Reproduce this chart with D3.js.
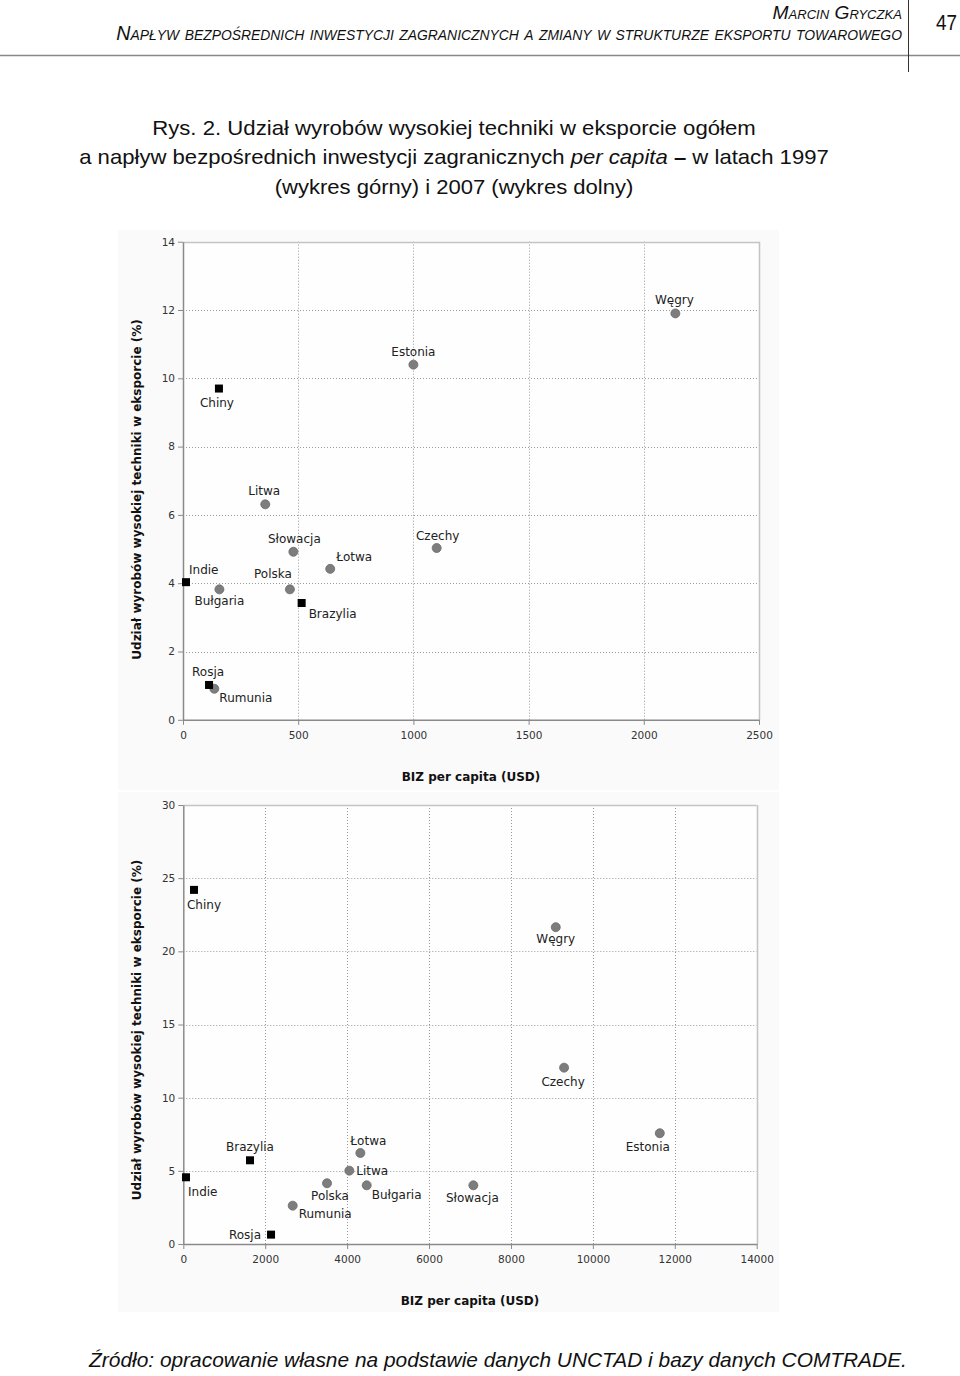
<!DOCTYPE html>
<html><head><meta charset="utf-8">
<script src="https://cdn.jsdelivr.net/npm/d3@7"></script>
<style>body{margin:0;background:#fff}svg{display:block}</style>
</head><body>
<svg id="c" width="960" height="1376"></svg>
<script>
// ---------- DATA ----------
const countries1997 = ["Chiny","Estonia","Węgry","Czechy","Litwa","Słowacja","Łotwa","Indie","Bułgaria","Polska","Brazylia","Rosja","Rumunia"];
const biz1997 = [156,1000,2137,1101,357,479,639,13,158,464,515,113,136];
const hitech1997 = [9.7,10.4,11.9,5.03,6.31,4.92,4.42,4.03,3.82,3.82,3.42,1.02,0.91];

const countries2007 = ["Chiny","Indie","Brazylia","Rosja","Rumunia","Polska","Łotwa","Litwa","Bułgaria","Słowacja","Węgry","Czechy","Estonia"];
const biz2007 = [261,66,1629,2142,2671,3509,4323,4054,4478,7082,9094,9297,11634];
const hitech2007 = [24.2,4.56,5.72,0.64,2.62,4.15,6.22,5.01,4.01,4.01,21.65,12.05,7.57];

const nonEU = ["Chiny","Indie","Brazylia","Rosja"];

const xTicks1997 = [0,500,1000,1500,2000,2500];
const yTicks1997 = [0,2,4,6,8,10,12,14];
const xTicks2007 = [0,2000,4000,6000,8000,10000,12000,14000];
const yTicks2007 = [0,5,10,15,20,25,30];

const xTitle = "BIZ per capita (USD)";
const yTitle = "Udział wyrobów wysokiej techniki w eksporcie (%)";
const headerAuthor = "Marcin Gryczka";
const headerTitle = "Napływ bezpośrednich inwestycji zagranicznych a zmiany w strukturze eksportu towarowego";
const pageNo = "47";
const captionLines = [
  [{t:"Rys. 2. Udział wyrobów wysokiej techniki w eksporcie ogółem"}],
  [{t:"a napływ bezpośrednich inwestycji zagranicznych "},{t:"per capita",i:true},{t:" "},{t:"–",b:true},{t:" w latach 1997"}],
  [{t:"(wykres górny) i 2007 (wykres dolny)"}]
];
const sourceText = "Źródło: opracowanie własne na podstawie danych UNCTAD i bazy danych COMTRADE.";

// ---------- LAYOUT ----------
const svg = d3.select("#c");
const sans = "'Liberation Sans', Arial, sans-serif";
const chartFont = "'DejaVu Sans', Verdana, sans-serif";

function fitWidth(sel, target, cx){
  const w = sel.node().getComputedTextLength();
  const k = target / w;
  sel.attr("transform", `translate(${cx},0) scale(${k},1) translate(${-cx},0)`);
}

// header
const hA = svg.append("text").attr("x",902).attr("y",19).attr("text-anchor","end")
  .attr("font-family",sans).attr("font-style","italic").attr("font-size",19)
  .style("font-variant","small-caps").attr("fill","#111").text(headerAuthor);
fitWidth(hA,130,902);
const hT = svg.append("text").attr("x",902).attr("y",40).attr("text-anchor","end")
  .attr("font-family",sans).attr("font-style","italic").attr("font-size",20)
  .style("font-variant","small-caps").attr("fill","#111").text(headerTitle);
fitWidth(hT,780,902);
const pN = svg.append("text").attr("x",946.5).attr("y",30).attr("text-anchor","middle")
  .attr("font-family",sans).attr("font-size",22).attr("fill","#111").text(pageNo);
fitWidth(pN,21,946.5);
svg.append("line").attr("x1",0).attr("x2",960).attr("y1",55.5).attr("y2",55.5).attr("stroke","#888").attr("stroke-width",1.5);
svg.append("line").attr("x1",908.5).attr("x2",908.5).attr("y1",0).attr("y2",72).attr("stroke","#333").attr("stroke-width",1);

// caption
const capY = [135,164,194], capW = [604,750,359];
captionLines.forEach((parts,i)=>{
  const t = svg.append("text").attr("x",454).attr("y",capY[i]).attr("text-anchor","middle")
    .attr("font-family",sans).attr("font-size",20.5).attr("fill","#111");
  parts.forEach(p=>{
    const ts = t.append("tspan").text(p.t);
    if(p.i) ts.attr("font-style","italic");
    if(p.b) ts.attr("font-weight","bold");
  });
  fitWidth(t,capW[i],454);
});

// source
const src = svg.append("text").attr("x",498).attr("y",1367).attr("text-anchor","middle")
  .attr("font-family",sans).attr("font-style","italic").attr("font-size",20.5).attr("fill","#111").text(sourceText);
fitWidth(src,818,498);

// label placements (layout only)
const place1997 = {
  "Chiny":["middle",-2,18],"Estonia":["middle",0,-9],"Węgry":["middle",-1,-9],"Czechy":["middle",1,-8],
  "Litwa":["middle",-1,-9],"Słowacja":["middle",1,-8.5],"Łotwa":["start",6,-8],"Indie":["start",3,-8],
  "Bułgaria":["middle",0,16],"Polska":["end",2,-11.5],"Brazylia":["start",7,15],"Rosja":["middle",-1,-9],
  "Rumunia":["start",5,13]
};
const place2007 = {
  "Chiny":["start",-7,19],"Indie":["start",2,19],"Brazylia":["middle",0,-9],"Rosja":["end",-10,4],
  "Rumunia":["start",6,12],"Polska":["middle",3,17],"Łotwa":["middle",8,-8],"Litwa":["start",7,4],
  "Bułgaria":["start",5,14],"Słowacja":["middle",-1,17],"Węgry":["middle",0,16],"Czechy":["middle",-1,18],
  "Estonia":["middle",-12,18]
};

function drawChart(o){
  const g = svg.append("g");
  g.append("rect").attr("x",o.bg[0]).attr("y",o.bg[1]).attr("width",o.bg[2]).attr("height",o.bg[3]).attr("fill","#fafafa");
  const x = d3.scaleLinear().domain(o.xDomain).range(o.xRange);
  const y = d3.scaleLinear().domain(o.yDomain).range(o.yRange);
  const [x0,x1] = o.xRange, [y0,y1] = o.yRange;
  g.append("rect").attr("x",x0).attr("y",y1).attr("width",x1-x0).attr("height",y0-y1).attr("fill","#fefefe");
  // grid
  g.selectAll(".gx").data(o.xTicks.slice(1,-1)).join("line")
    .attr("x1",d=>Math.round(x(d))+0.5).attr("x2",d=>Math.round(x(d))+0.5).attr("y1",y1).attr("y2",y0)
    .attr("stroke","#999").attr("stroke-dasharray","1,2");
  g.selectAll(".gy").data(o.yTicks.slice(1,-1)).join("line")
    .attr("y1",d=>Math.round(y(d))+0.5).attr("y2",d=>Math.round(y(d))+0.5).attr("x1",x0).attr("x2",x1)
    .attr("stroke","#999").attr("stroke-dasharray","1,2");
  // frame top/right
  g.append("line").attr("x1",x0).attr("x2",x1).attr("y1",Math.round(y1)+0.5).attr("y2",Math.round(y1)+0.5).attr("stroke","#c4c4c4").attr("stroke-width",1.5);
  g.append("line").attr("x1",Math.round(x1)+0.5).attr("x2",Math.round(x1)+0.5).attr("y1",y1).attr("y2",y0).attr("stroke","#c4c4c4").attr("stroke-width",1.5);
  // axes
  const ax = g.append("g").attr("transform",`translate(0,${y0})`)
    .call(d3.axisBottom(x).tickValues(o.xTicks).tickFormat(d3.format("d")).tickSize(5).tickSizeOuter(0).tickPadding(7));
  const ay = g.append("g").attr("transform",`translate(${x0},0)`)
    .call(d3.axisLeft(y).tickValues(o.yTicks).tickFormat(d3.format("d")).tickSize(5).tickSizeOuter(0).tickPadding(3));
  [ax,ay].forEach(a=>{
    a.select(".domain").attr("stroke","#8a8a8a").attr("stroke-width",1.5);
    a.selectAll(".tick line").attr("stroke","#8a8a8a");
    a.selectAll(".tick text").attr("font-family",chartFont).attr("font-size",10.5).attr("fill","#333");
  });
  // titles
  g.append("text").attr("x",(x0+x1)/2).attr("y",y0+61).attr("text-anchor","middle")
    .attr("font-family",chartFont).attr("font-weight","bold").attr("font-size",12).attr("fill","#111").text(xTitle);
  g.append("text").attr("transform",`translate(140.5,${o.yTitleY}) rotate(-90)`).attr("text-anchor","middle")
    .attr("font-family",chartFont).attr("font-weight","bold").attr("font-size",12).attr("fill","#111").text(yTitle);
  // points
  const data = o.names.map((n,i)=>({n, x:o.xs[i], y:o.ys[i], sq: nonEU.includes(n)}));
  g.selectAll(".c").data(data.filter(d=>!d.sq)).join("circle")
    .attr("cx",d=>x(d.x)).attr("cy",d=>y(d.y)).attr("r",4.5)
    .attr("fill","#7d7d7d").attr("stroke","#6a6a6a").attr("stroke-width",0.8);
  g.selectAll(".s").data(data.filter(d=>d.sq)).join("rect")
    .attr("x",d=>x(d.x)-4).attr("y",d=>y(d.y)-4).attr("width",8).attr("height",8).attr("fill","#000");
  g.selectAll(".l").data(data).join("text")
    .attr("x",d=>x(d.x)+o.place[d.n][1]).attr("y",d=>y(d.y)+o.place[d.n][2])
    .attr("text-anchor",d=>o.place[d.n][0])
    .attr("font-family",chartFont).attr("font-size",12).attr("fill","#222").text(d=>d.n);
}

drawChart({
  bg:[118,230,661,560],
  xDomain:[0,2500], xRange:[183,759], yDomain:[0,14], yRange:[719.8,241.7],
  xTicks:xTicks1997, yTicks:yTicks1997, yTitleY:489.5,
  names:countries1997, xs:biz1997, ys:hitech1997, place:place1997
});
drawChart({
  bg:[118,792,661,520],
  xDomain:[0,14000], xRange:[183.3,756.7], yDomain:[0,30], yRange:[1244,805],
  xTicks:xTicks2007, yTicks:yTicks2007, yTitleY:1030,
  names:countries2007, xs:biz2007, ys:hitech2007, place:place2007
});
</script>
</body></html>
